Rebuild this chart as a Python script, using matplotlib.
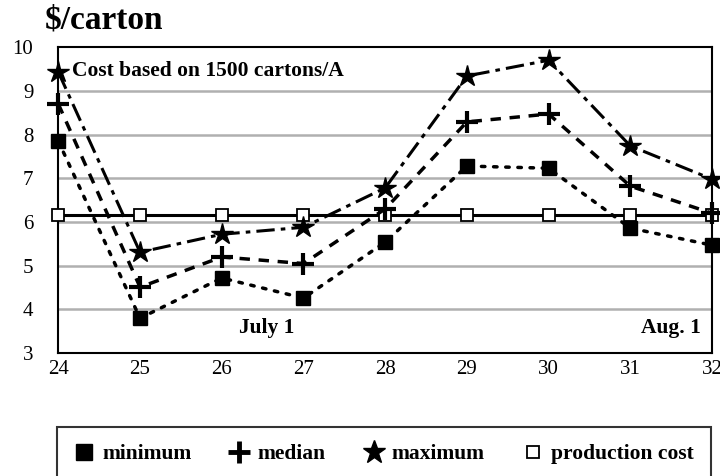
import matplotlib.pyplot as plt
from matplotlib.lines import Line2D

weeks = [24, 25, 26, 27, 28, 29, 30, 31, 32]
minimum = [7.85, 3.8, 4.72, 4.26, 5.54, 7.28, 7.23, 5.86, 5.47]
median = [8.7, 4.51, 5.2, 5.05, 6.3, 8.29, 8.47, 6.82, 6.2]
maximum = [9.43, 5.31, 5.72, 5.88, 6.78, 9.34, 9.7, 7.74, 6.98]
prod_cost = [6.17] * 9

plt.rcParams['font.family'] = ['Liberation Serif', 'DejaVu Serif']

fig = plt.figure(figsize=(7.2, 4.76), dpi=100)
ax = fig.add_axes([0.081, 0.258, 0.908, 0.643])

for yv in range(4, 10):
    ax.axhline(yv, color='#b0b0b0', lw=1.8, zorder=0)

ax.plot(weeks, prod_cost, color='black', lw=2.2, marker='s', ms=9,
        mfc='white', mec='black', mew=1.3, zorder=3, clip_on=False)
ax.plot(weeks, minimum, color='black', lw=2.5, ls=(0, (1, 2.5)), dash_capstyle='round',
        marker='s', ms=10.5, mfc='black', zorder=4, clip_on=False)
ax.plot(weeks, median, color='black', lw=2.5, ls=(0, (3, 2.5)), zorder=4, clip_on=False)
ax.plot(weeks, median, ls='none', marker='+', ms=16, mew=3, color='black', zorder=5, clip_on=False)
ax.plot(weeks, maximum, color='black', lw=2.2, ls=(0, (6, 2, 1.5, 2)),
        marker='*', ms=16, mfc='black', zorder=4, clip_on=False)

ax.set_xlim(24, 32)
ax.set_ylim(3, 10)
ax.set_xticks(weeks)
ax.set_yticks(range(3, 11))
ax.tick_params(axis='y', length=0, labelsize=15, pad=18)
ax.tick_params(axis='x', length=0, labelsize=15, pad=5)
for s in ax.spines.values():
    s.set_linewidth(1.5)

ax.text(24.17, 9.45, 'Cost based on 1500 cartons/A', fontsize=15.5, fontweight='bold', va='center')
ax.text(26.55, 3.57, 'July 1', fontsize=15.5, fontweight='bold', ha='center', va='center')
ax.text(31.5, 3.57, 'Aug. 1', fontsize=15.5, fontweight='bold', ha='center', va='center')
fig.text(0.062, 0.958, '\\$/carton', fontsize=24, fontweight='bold', va='center')

handles = [
    Line2D([], [], ls='none', marker='s', ms=11, color='black'),
    Line2D([], [], ls='none', marker='+', ms=16, mew=3.5, color='black'),
    Line2D([], [], ls='none', marker='*', ms=17, color='black'),
    Line2D([], [], ls='none', marker='s', ms=9, mfc='white', mec='black', mew=1.3),
]
labels = ['minimum', 'median', 'maximum', 'production cost']
leg = fig.legend(handles, labels, loc='upper left',
                 bbox_to_anchor=(57 / 720, 1 - 427 / 476, 654 / 720, 0), mode='expand', ncol=4,
                 frameon=True, fancybox=False, edgecolor='black',
                 prop={'weight': 'bold', 'size': 15.5}, handletextpad=0.4,
                 handlelength=0.9, borderpad=0.8, borderaxespad=0)
leg.get_frame().set_linewidth(1.5)

fig.savefig('out.png', dpi=100)
